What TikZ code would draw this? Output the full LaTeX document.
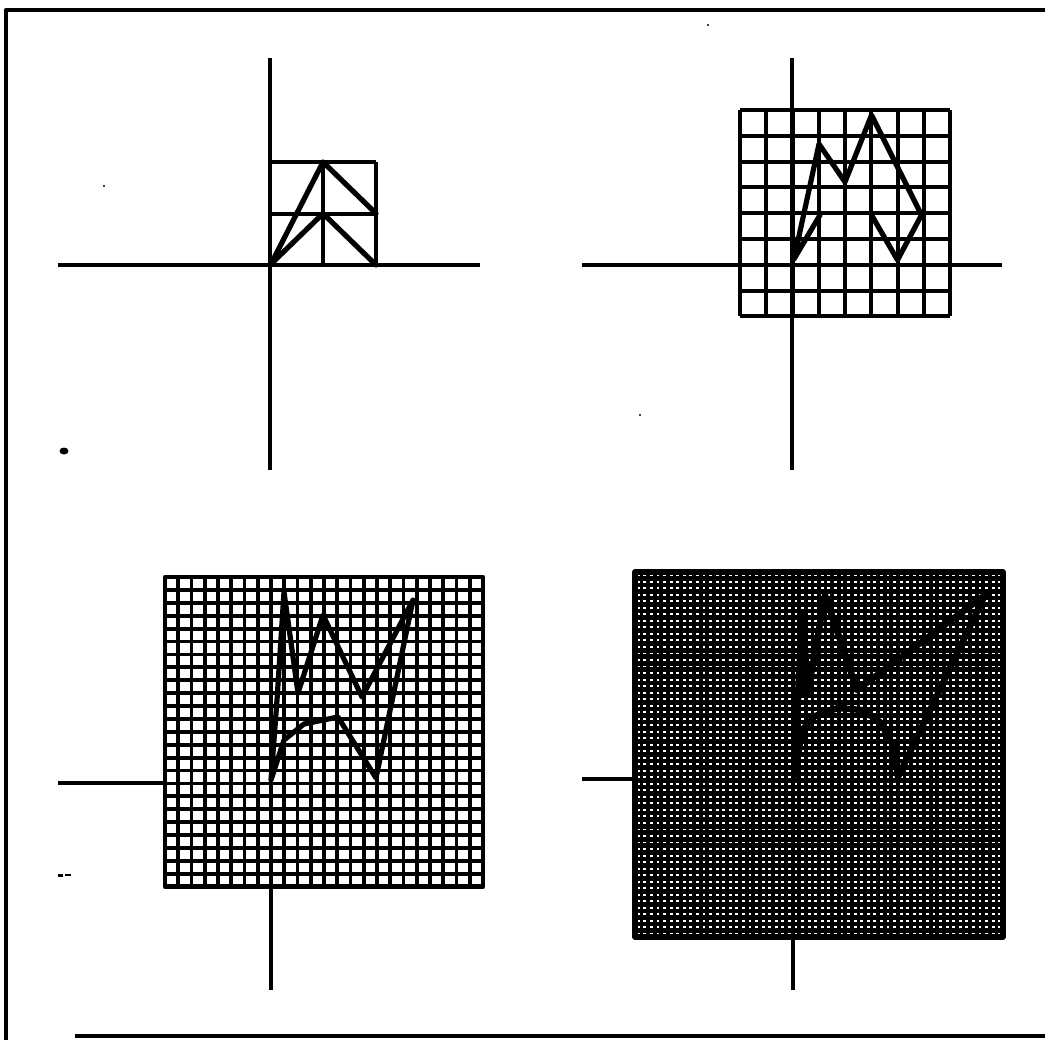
\documentclass[tikz,border=0pt]{standalone}
\begin{document}
\begin{tikzpicture}[x=0.5pt,y=-0.5pt,line join=round,
  frameline/.style={line width=2.2pt},
  axisline/.style={line width=2.3pt},
  gridline/.style={line width=2pt},
  midgrid/.style={line width=1.9pt},
  shapeline/.style={line width=2.6pt,line join=round,line cap=round},
  vfine/.style={line width=1.8pt},
  hfine/.style={line width=2.3pt},
  speck/.style={fill=black}]
\useasboundingbox (0,0) rectangle (1045,1040);
\fill[white] (0,0) rectangle (1045,1040);
% frame
\coordinate (ftr) at (1045,10);
\coordinate (ftl) at (6,10);
\coordinate (fbl) at (6,1040);
\coordinate (bbl) at (75,1036);
\coordinate (bbr) at (1045,1036);
\draw[frameline] (ftr) -- (ftl) -- (fbl);
\draw[line width=1.6pt] (bbl) -- (bbr);
% ---------------- panel 1 ----------------
\draw[axisline] (270,58) -- (270,470);
\draw[axisline] (58,265) -- (480,265);
\foreach \i in {0,1,2} {
  \draw[gridline] ({270+53*\i},162) -- ({270+53*\i},265);
  \draw[gridline] (270,{162+51.5*\i}) -- (376,{162+51.5*\i});
}
\coordinate (a0) at (271,264);
\coordinate (a1) at (323,162);
\coordinate (a2) at (376,213.5);
\coordinate (a3) at (323,213.5);
\coordinate (a4) at (376,265);
\draw[shapeline] (a0) -- (a1) -- (a2);
\draw[shapeline] (a0) -- (a3) -- (a4);
% ---------------- panel 2 ----------------
\draw[axisline] (792,58) -- (792,470);
\draw[axisline] (582,265) -- (1002,265);
\foreach \i in {0,...,8} {
  \draw[gridline] ({740+26.25*\i},110) -- ({740+26.25*\i},316.4);
  \draw[gridline] (740,{110+25.8*\i}) -- (950,{110+25.8*\i});
}
\coordinate (b0) at (794,259);
\coordinate (b1) at (819,144);
\coordinate (b2) at (845,182);
\coordinate (b3) at (871.5,115);
\coordinate (b4) at (921.5,215);
\coordinate (b5) at (897.5,260);
\coordinate (b6) at (871.5,215);
\coordinate (b7) at (820,215);
\draw[shapeline] (b7) -- (b0) -- (b1) -- (b2) -- (b3) -- (b4) -- (b5) -- (b6);
% ---------------- panel 3 ----------------
\foreach \i in {0,...,24} {
  \draw[midgrid] ({165+13.25*\i},577) -- ({165+13.25*\i},886.6);
  \draw[midgrid] (165,{577+12.9*\i}) -- (483,{577+12.9*\i});
}
\draw[line width=2.4pt] (165,577) rectangle (483,886.6);
\draw[axisline] (271,577) -- (271,990);
\draw[axisline] (58,783) -- (165,783);
\coordinate (c0) at (271,780);
\coordinate (c1) at (277,700);
\coordinate (c2) at (284,592);
\coordinate (c3) at (298,693);
\coordinate (c4) at (323,615);
\coordinate (c5) at (362,697);
\coordinate (c6) at (413,600);
\coordinate (c7) at (376,778);
\coordinate (c8) at (338,717);
\coordinate (c9) at (304,724);
\coordinate (c10) at (284,740);
\draw[shapeline] (c0) -- (c1) -- (c2) -- (c3) -- (c4) -- (c5) -- (c6) -- (c7) -- (c8) -- (c9) -- (c10) -- cycle;
% ---------------- panel 4 ----------------
\foreach \i in {0,...,56} {
  \draw[vfine] ({635+6.5714*\i},572) -- ({635+6.5714*\i},937);
  \draw[hfine] (635,{572+6.518*\i}) -- (1003,{572+6.518*\i});
}
\draw[line width=2.8pt] (635,572) rectangle (1003,937);
\draw[axisline] (793,572) -- (793,990);
\draw[axisline] (582,779) -- (635,779);
\coordinate (d0) at (795,775);
\coordinate (d1) at (798,700);
\coordinate (d2) at (802,612);
\coordinate (d3) at (808,692);
\coordinate (d4) at (825,595);
\coordinate (d5) at (857,690);
\coordinate (d6) at (985,595);
\coordinate (d7) at (898,777);
\coordinate (d8) at (893,745);
\coordinate (d9) at (880,722);
\coordinate (d10) at (862,710);
\coordinate (d11) at (838,708);
\coordinate (d12) at (815,716);
\coordinate (d13) at (802,730);
\fill (d1) -- (d2) -- (d3) -- cycle;
\draw[shapeline,line width=3.2pt] (d0) -- (d1) -- (d2) -- (d3) -- (d4) -- (d5) -- (d6) -- (d7) -- (d8) -- (d9) -- (d10) -- (d11) -- (d12) -- (d13) -- cycle;
% ---------------- specks ----------------
\fill[speck] (64,451) ellipse [x radius=4.5, y radius=3.5];
\fill[speck] (58,874) rectangle (63,876.5);
\fill[speck] (65,873.5) rectangle (71,875.5);
\fill[speck] (104,186) circle [radius=1.1];
\fill[speck] (708,25) circle [radius=1.1];
\fill[speck] (640,415) circle [radius=1.1];
\end{tikzpicture}
\end{document}
